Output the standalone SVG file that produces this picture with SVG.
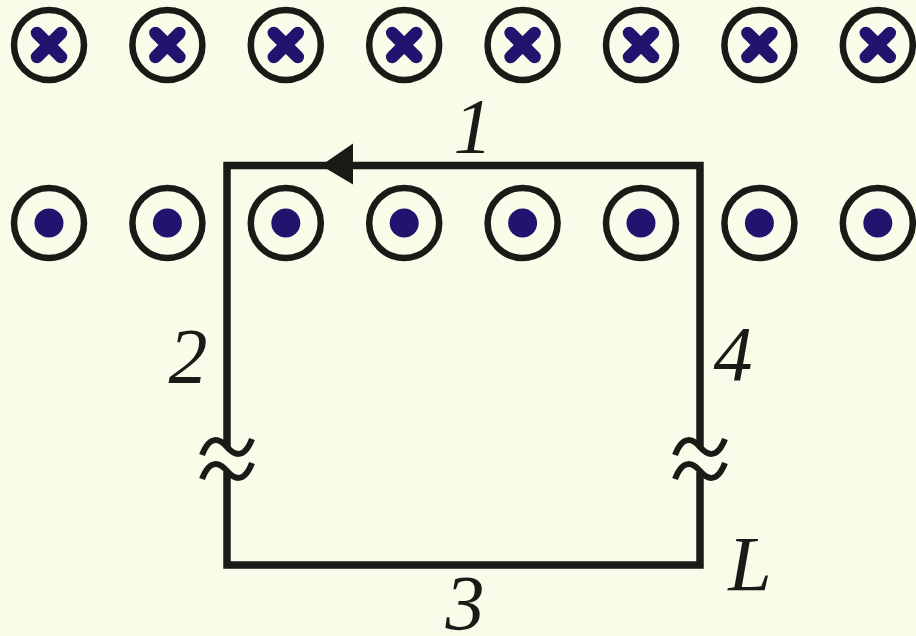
<svg xmlns="http://www.w3.org/2000/svg" width="916" height="636" viewBox="0 0 916 636">
<style>
.ring{fill:none;stroke:#1c1a17;stroke-width:6.5}
.cross{stroke:#23136f;stroke-width:12.5;stroke-linecap:round;fill:none}
.dot{fill:#23136f}
.wire{fill:none;stroke:#1c1a17;stroke-width:7.5;stroke-linejoin:miter}
.brk{fill:none;stroke:#1c1a17;stroke-width:6;stroke-linecap:butt}
.lbl{font-family:"Liberation Serif","Times New Roman",serif;font-style:italic;font-size:78px;fill:#1c1a17;text-anchor:middle}
</style>
<defs>
<g id="into"><circle class="ring" r="35"/><path class="cross" d="M-12,-12 L12,12 M12,-12 L-12,12"/></g>
<g id="out"><circle class="ring" r="35"/><circle class="dot" r="14.5"/></g>
<path id="wave" class="brk" d="M-25,8 C-17,-13 -7,-8 0,0 C7,8 17,13 25,-8"/>
</defs>
<rect width="916" height="636" fill="#fafbe8"/>
<g id="field-in">
<use href="#into" x="49" y="45"/>
<use href="#into" x="167.4" y="45"/>
<use href="#into" x="285.8" y="45"/>
<use href="#into" x="404.2" y="45"/>
<use href="#into" x="522.6" y="45"/>
<use href="#into" x="641" y="45"/>
<use href="#into" x="759.4" y="45"/>
<use href="#into" x="877.8" y="45"/>
</g>
<g id="field-out">
<use href="#out" x="49" y="223"/>
<use href="#out" x="167.4" y="223"/>
<use href="#out" x="285.8" y="223"/>
<use href="#out" x="404.2" y="223"/>
<use href="#out" x="522.6" y="223"/>
<use href="#out" x="641" y="223"/>
<use href="#out" x="759.4" y="223"/>
<use href="#out" x="877.8" y="223"/>
</g>
<g id="connectors">
<path class="wire" d="M227,447 L227,165.5 L700,165.5 L700,447"/>
<path class="wire" d="M227,472 L227,565 L700,565 L700,472"/>
<polygon points="321,165.5 353,143.5 353,184.5" fill="#1c1a17"/>
<use href="#wave" x="227" y="447"/>
<use href="#wave" x="227" y="471"/>
<use href="#wave" x="700" y="447"/>
<use href="#wave" x="700" y="471"/>
</g>
<g id="labels">
<text class="lbl" x="473" y="152">1</text>
<text class="lbl" x="188" y="382">2</text>
<text class="lbl" x="733" y="380">4</text>
<text class="lbl" x="750" y="590">L</text>
<text class="lbl" x="465" y="629">3</text>
</g>
</svg>
